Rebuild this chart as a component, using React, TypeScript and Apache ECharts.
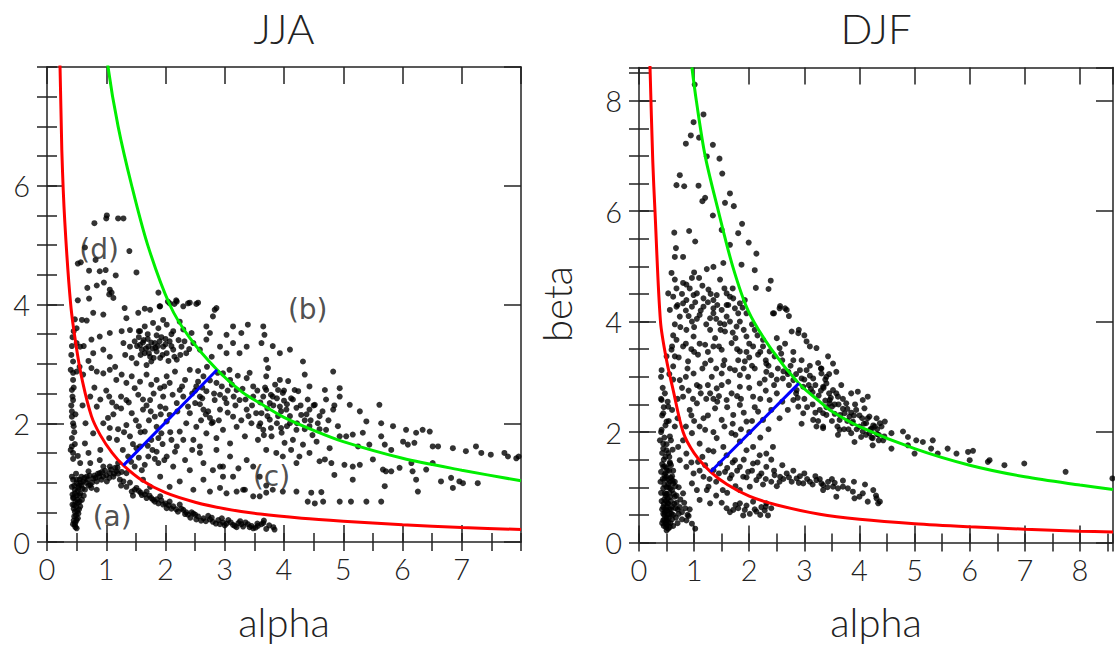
import React, { useEffect, useRef } from 'react';
import * as echarts from 'echarts';

// ---------- curves ----------
const jjaRed: number[][] = [[0.19,8.6],[0.22,8.0],[0.25,6.6],[0.3,5.4],[0.4,4.0],[0.5,3.25],[0.6,2.7],[0.75,2.12],[0.9,1.8],[1.1,1.5],[1.29,1.29],[1.6,1.04],[2.0,0.83],[2.5,0.67],[3.0,0.56],[3.6,0.47],[4.3,0.4],[5.0,0.35],[6.0,0.29],[7.0,0.245],[8.0,0.21]];
const jjaGreen: number[][] = [[0.98,8.6],[1.03,8.0],[1.2,7.0],[1.43,6.0],[1.7,5.0],[2.07,4.0],[2.4,3.45],[2.87,2.9],[3.3,2.52],[3.59,2.34],[4.0,2.1],[4.5,1.88],[5.0,1.69],[6.0,1.41],[7.0,1.21],[8.0,1.03]];
const jjaBlue: number[][] = [[1.29,1.29],[2.87,2.9]];
const djfRed: number[][] = [[0.19,9.0],[0.2,8.6],[0.25,6.9],[0.29,6.0],[0.39,4.0],[0.5,3.3],[0.62,2.76],[0.8,2.0],[1.0,1.62],[1.3,1.28],[1.6,1.05],[2.0,0.84],[2.5,0.68],[3.28,0.51],[4.0,0.42],[5.0,0.34],[6.0,0.285],[7.0,0.24],[8.0,0.205],[8.6,0.19]];
const djfGreen: number[][] = [[0.96,8.6],[1.04,8.0],[1.2,7.0],[1.44,6.0],[1.7,5.0],[1.98,4.2],[2.4,3.5],[2.9,2.88],[3.28,2.55],[3.46,2.4],[4.0,2.1],[5.0,1.7],[6.0,1.4],[7.0,1.19],[8.0,1.04],[8.6,0.96]];
const djfBlue: number[][] = [[1.3,1.28],[2.9,2.88]];

// ---------- JJA scatter ----------
const jjaClusterA: number[][] = [[0.44,1.05],[0.5,0.99],[0.42,0.93],[0.53,0.91],[0.47,0.82],[0.56,0.82],[0.44,0.74],[0.51,0.71],[0.43,0.63],[0.49,0.6],[0.47,0.51],[0.53,0.48],[0.46,0.43],[0.5,0.37],[0.47,0.29],[0.5,0.23],[0.44,0.3],[0.56,0.6],[0.59,0.71],[0.42,1.1],[0.55,1.05],[0.61,1.02],[0.67,1.1],[0.73,0.96],[0.78,1.07],[0.84,1.02],[0.89,1.16],[0.95,1.1],[1.01,1.02],[1.06,1.16],[1.12,1.1],[1.17,1.19],[1.23,1.05],[0.64,0.88],[0.75,0.91],[0.95,1.27],[1.34,1.16],[1.29,1.02],[0.7,1.19],[0.84,0.88],[0.46,0.95],[0.52,0.86],[0.48,0.68],[0.45,0.56],[0.52,0.4],[0.48,0.33],[0.54,0.55],[0.58,0.95],[0.62,0.78],[0.66,1.0],[0.7,0.95],[0.8,1.12],[0.86,1.15],[0.92,1.05],[0.98,1.2],[1.05,1.08],[1.15,1.25],[1.2,1.15],[0.58,1.1],[0.49,1.15],[0.43,0.8],[0.55,0.68],[0.6,0.9],
[0.45,0.36],[0.49,0.45],[0.51,0.52],[0.46,0.62],[0.52,0.66],[0.45,0.75],[0.5,0.78],[0.47,0.88],[0.54,0.95],[0.5,1.05],[0.57,1.0],[0.63,1.08],[0.69,1.05],[0.72,1.12],[0.76,1.0],[0.82,1.08],[0.88,1.1],[0.93,1.18],[1.0,1.12],[1.08,1.22],[1.13,1.15],[1.19,1.25],[1.26,1.18],[0.48,0.25],[0.55,0.78]];
const jjaBand: number[][] = [[1.34,0.93],[1.43,0.85],[1.51,0.91],[1.6,0.79],[1.68,0.74],[1.79,0.71],[1.88,0.65],[1.96,0.63],[2.02,0.57],[2.13,0.6],[2.21,0.51],[2.3,0.54],[2.38,0.46],[2.47,0.48],[2.55,0.43],[2.64,0.4],[2.72,0.44],[2.8,0.34],[2.89,0.37],[2.97,0.33],[3.06,0.37],[3.14,0.29],[3.23,0.32],[3.31,0.26],[3.39,0.3],[3.48,0.23],[3.56,0.27],[1.91,0.77],[2.07,0.68],[2.24,0.63],[1.68,0.85],[3.62,0.3],[3.7,0.22],[3.82,0.25],[3.66,0.36],[1.4,1.0],[1.55,0.86],[1.73,0.78],[1.85,0.72],[2.05,0.62],[2.18,0.55],[2.35,0.5],[2.5,0.46],[2.6,0.36],[2.75,0.38],[2.85,0.31],[3.0,0.28],[3.1,0.33],[3.2,0.25],[3.35,0.33],[3.45,0.27],[3.55,0.31],[3.75,0.28],[2.42,0.41],[2.95,0.4],[3.28,0.3],[1.25,0.95],[1.45,0.78],
[1.48,0.88],[1.58,0.83],[1.65,0.8],[1.76,0.74],[1.82,0.68],[1.93,0.7],[2.0,0.65],[2.1,0.56],[2.27,0.56],[2.33,0.47],[2.44,0.5],[2.52,0.38],[2.68,0.35],[2.78,0.41],[2.92,0.3],[3.03,0.31],[3.17,0.27],[3.26,0.35],[3.42,0.25],[3.52,0.24]];
const jjaD: number[][] = [[1.01,5.5],[1.2,5.45],[1.29,5.45],[0.8,5.37],[0.64,4.96],[1.39,4.9],[0.52,4.69],[0.57,4.71],[0.82,4.75],[0.71,4.57],[0.89,4.56],[0.99,4.58],[1.16,4.49],[1.51,4.54],[0.84,4.32],[0.96,4.37],[0.68,4.28],[1.06,4.25],[1.09,4.2],[1.05,4.17],[1.12,4.11],[0.71,4.1],[0.52,4.07],[1.0,5.45],[1.88,4.2],[2.04,4.05],[2.18,4.07],[2.15,4.01],[2.3,3.97],[2.41,4.03],[2.55,4.03],[2.86,3.94],[1.9,3.97],[1.31,3.94],[1.65,3.93]];
const jjaCloud: number[][] = [[0.78,3.86],[0.95,3.83],[1.34,3.77],[0.59,3.74],[0.67,3.73],[1.54,3.86],[1.74,3.91],[1.91,3.97],[2.07,4.02],[2.19,4.05],[2.38,4.02],[2.52,4.01],[2.83,3.91],[2.8,3.8],
[1.06,3.52],[1.26,3.55],[1.4,3.57],[1.57,3.55],[1.65,3.63],[1.79,3.69],[1.88,3.6],[1.96,3.74],[2.02,3.66],[2.13,3.55],[2.24,3.71],[2.44,3.52],[2.69,3.63],[2.75,3.52],[3.03,3.49],[3.14,3.63],[3.28,3.52],[3.39,3.66],[0.75,3.41],[0.89,3.46],
[1.29,3.35],[1.4,3.29],[1.48,3.38],[1.57,3.32],[1.6,3.24],[1.65,3.18],[1.71,3.29],[1.74,3.12],[1.82,3.35],[1.85,3.21],[1.91,3.1],[1.96,3.29],[2.02,3.18],[2.07,3.38],[2.13,3.24],[2.19,3.07],[2.27,3.29],[2.35,3.18],[2.47,3.35],[2.58,3.24],[2.69,3.41],[2.78,3.12],[2.92,3.29],[3.03,3.18],[3.14,3.35],[3.25,3.18],[3.37,3.29],[1.06,3.12],[0.95,3.24],[0.78,3.18],[0.44,3.04],[0.56,3.29],[1.51,3.01],[1.68,2.98],[1.43,3.1],[1.32,3.15],[1.76,3.04],[1.55,3.45],[1.62,3.36],[1.7,3.42],[1.78,3.26],[1.87,3.3],[1.93,3.45],[2.0,3.33],[2.1,3.5],[2.22,3.4],[2.3,3.58],
[0.44,2.73],[0.61,2.82],[0.75,2.93],[0.84,2.87],[0.95,2.84],[1.06,2.9],[1.17,2.73],[1.26,2.82],[1.34,2.68],[1.43,2.79],[1.48,2.59],[1.57,2.7],[1.68,2.82],[1.76,2.65],[1.85,2.73],[1.91,2.59],[2.02,2.79],[2.07,2.68],[2.16,2.87],[2.24,2.56],[2.33,2.73],[2.41,2.9],[2.52,2.62],[2.64,2.79],[2.69,2.54],[2.86,2.68],[2.97,2.84],[3.09,2.73],[3.2,2.56],[3.37,2.76],[3.48,2.62],[0.42,2.56],[0.5,2.87],
[0.44,2.39],[0.42,2.11],[0.73,2.45],[0.84,2.28],[1.17,2.28],[1.34,2.39],[1.43,2.17],[1.54,2.48],[1.62,2.23],[1.74,2.39],[1.82,2.11],[1.91,2.28],[1.96,2.45],[2.07,2.14],[2.19,2.34],[2.3,2.45],[2.41,2.17],[2.5,2.34],[2.58,2.45],[2.64,2.23],[2.75,2.09],[2.83,2.39],[2.92,2.23],[3.03,2.34],[3.14,2.11],[3.25,2.39],[3.37,2.23],[3.48,2.45],[3.53,2.17],
[0.44,2.0],[0.42,1.61],[0.64,1.66],[0.78,1.83],[1.03,2.09],[1.06,1.92],[1.34,1.97],[1.4,1.78],[1.57,1.61],[1.65,1.86],[1.76,1.72],[1.85,1.94],[1.93,1.83],[2.02,2.03],[2.1,1.72],[2.19,1.61],[2.24,1.86],[2.35,2.0],[2.47,1.72],[2.52,1.94],[2.58,1.61],[2.69,1.83],[2.78,2.0],[2.86,1.75],[2.97,1.89],[3.09,1.66],[3.2,1.94],[3.34,1.78],[3.45,2.0],[3.56,1.72],
[0.44,1.5],[0.56,1.33],[0.73,1.33],[0.89,1.38],[1.06,1.27],[1.2,1.33],[1.37,1.44],[1.51,1.58],[1.48,1.27],[1.6,1.21],[1.71,1.44],[1.85,1.52],[1.88,1.33],[2.02,1.44],[2.13,1.27],[2.16,1.52],[2.33,1.38],[2.41,1.21],[2.58,1.5],[2.64,1.33],[2.8,1.21],[2.86,1.55],[2.97,1.27],[3.09,1.44],[3.23,1.24],[3.37,1.38],[3.48,1.27],
[1.62,1.05],[1.74,0.93],[1.91,1.1],[2.07,0.93],[2.24,1.02],[2.47,0.88],[2.64,1.05],[2.75,0.85],[2.92,0.91],[3.03,0.82],[3.2,0.85],[3.34,0.88],[2.97,1.1],[2.92,1.27],[3.14,1.1],[3.31,0.88],[3.48,0.77],
[0.42,3.3],[0.4,2.9],[0.45,2.6],[0.42,2.2],[0.46,1.85],[0.4,1.55],[0.44,1.4],[0.5,3.6],[0.47,3.75],[0.45,3.55],[0.5,3.35],[0.62,3.3],[0.7,3.05],[0.55,2.95],[0.8,2.6],[0.9,2.4],[0.6,2.3],[0.65,2.0],[0.95,2.0],[1.0,2.55],[1.1,2.35],[1.15,2.95],[1.25,2.45],[1.05,1.75],[1.2,1.9],[0.9,1.55],[0.7,1.5],
[1.8,2.5],[1.98,2.62],[2.12,2.48],[2.28,2.62],[2.45,2.5],[2.55,2.7],[2.2,2.2],[2.38,2.28],[1.72,2.05],[1.55,1.95],[1.68,2.3],[2.0,2.25],[2.6,2.05],[2.9,2.05],[3.05,2.55],[3.15,2.45],[2.72,2.2],[2.3,1.72],[2.45,1.55],[1.95,1.65],[1.78,1.55],[2.08,1.85],
[1.52,3.3],[1.58,3.15],[1.63,3.4],[1.67,3.26],[1.72,3.18],[1.76,3.36],[1.8,3.1],[1.83,3.27],[1.9,3.38],[1.95,3.15],[2.0,3.42],[2.05,3.05],[2.1,3.3],[2.15,3.12],[1.55,3.55],[1.7,3.5],[1.85,3.48],[2.25,3.15],[2.32,3.38],[2.4,3.25],
[2.55,2.88],[2.62,2.6],[2.7,2.95],[2.75,2.72],[2.82,2.5],[2.88,2.85],[2.95,2.62],[3.0,2.42],[3.08,2.9],[3.12,2.65],[3.18,2.3],[3.22,2.8],[3.3,2.58],[3.35,2.4],[3.42,2.85],[3.46,2.3],[2.58,2.32],[2.68,2.15],[2.8,2.02],[2.92,2.48],[3.05,2.18],[3.28,2.05],[3.4,2.12],[2.5,2.55],[2.62,2.42],
[0.43,3.45],[0.41,3.15],[0.44,2.85],[0.43,2.45],[0.41,2.3],[0.45,1.95],[0.42,1.75],[0.47,1.65],[0.52,1.45],[0.48,2.15],
[1.05,2.45],[1.12,2.15],[1.18,1.72],[1.25,2.25],[1.3,1.85],[1.38,2.35],[1.45,1.65],[1.5,2.05],[1.58,1.85],[1.62,2.4],[1.7,1.62],[1.75,2.2],[1.82,1.4],[1.88,1.75],[1.92,2.15],[1.28,1.55],[1.42,1.35],[1.55,1.42],[1.65,1.3],[1.98,1.38]];
const jjaTail: number[][] = [[3.65,3.63],[3.67,3.49],[3.62,3.35],[3.81,3.3],[3.93,3.18],[4.1,3.24],[3.7,3.07],[4.32,3.04],[4.83,2.87],[4.35,2.82],[3.73,2.93],[3.7,2.79],[3.93,2.73],[4.07,2.71],[3.9,2.56],[4.18,2.56],[4.43,2.62],[4.94,2.59],[4.69,2.56],[3.7,2.56],[3.65,2.45],[3.81,2.45],[3.98,2.51],[4.12,2.42],[4.24,2.54],[4.4,2.4],[4.52,2.31],[4.71,2.4],[4.94,2.45],[3.76,2.34],[3.93,2.28],[4.04,2.23],[4.21,2.26],[4.29,2.14],[4.43,2.23],[4.6,2.12],[4.83,2.23],[5.11,2.31],[5.28,2.2],[5.61,2.31],[3.62,2.17],[3.76,2.06],[3.9,2.12],[4.1,2.0],[4.21,1.89],[4.43,1.95],[4.57,2.0],[4.71,1.89],[4.91,1.95],[5.05,1.78],[5.16,1.81],[5.33,1.84],[5.39,2.03],[5.64,2.0],[5.84,1.95],[6.06,1.89],[6.23,1.84],[6.34,1.89],[6.46,1.86],[3.65,1.89],[3.79,1.78],[3.96,1.84],[4.01,1.67],[4.15,1.72],[4.32,1.64],[4.55,1.69],[4.77,1.58],[4.94,1.78],[5.25,1.61],[5.44,1.64],[5.64,1.78],[5.7,1.64],[5.81,1.55],[6.01,1.69],[6.09,1.64],[6.2,1.67],[6.51,1.61],[6.6,1.61],[6.85,1.58],[7.07,1.53],[7.24,1.61],[7.33,1.5],[7.49,1.47],[7.72,1.5],[7.78,1.44],[7.92,1.41],[7.96,1.44],[3.7,1.55],[3.87,1.5],[3.98,1.44],[4.12,1.55],[4.26,1.44],[4.43,1.5],[4.6,1.36],[4.69,1.39],[4.8,1.33],[5.02,1.3],[5.16,1.27],[5.28,1.3],[5.5,1.39],[5.67,1.22],[5.72,1.19],[5.81,1.19],[5.95,1.25],[6.15,1.33],[6.17,1.19],[6.23,1.05],[6.4,1.22],[6.51,1.33],[6.65,1.02],[6.82,1.08],[6.96,1.02],[7.02,0.99],[7.27,0.99],[6.85,0.91],[6.26,0.85],[5.7,0.94],[4.85,1.13],[5.16,1.05],[4.21,1.33],[3.85,2.65],[4.0,2.38],[3.88,2.0],[3.72,2.25],[4.05,1.95],[4.35,2.05],[3.6,2.0],[3.78,1.92],[4.48,1.8],
[3.55,2.55],[3.6,2.35],[3.68,2.6],[3.72,2.12],[3.78,2.48],[3.82,2.3],[3.88,2.42],[3.95,2.2],[4.0,2.55],[4.05,2.32],[4.1,2.12],[4.15,2.4],[4.22,2.0],[4.28,2.3],[4.35,1.9],[4.38,2.15],[4.45,2.05],[4.5,2.3],[3.58,1.95],[3.66,1.8],[3.95,1.92],[4.6,1.9],[4.65,2.2],[4.75,2.05],[4.85,2.3]];
const jjaC: number[][] = [[3.59,0.77],[3.7,0.83],[3.81,0.88],[3.98,0.85],[4.21,0.85],[4.46,0.83],[4.63,0.84],[4.4,0.68],[4.52,0.65],[4.66,0.68],[4.94,0.68],[5.13,0.68],[5.39,0.68],[5.64,0.68],[3.65,0.32],[3.84,0.21],[3.59,1.1],[3.7,0.95]];

// ---------- DJF scatter ----------
const djfSpike: number[][] = [[1.01,8.29],[1.17,7.75],[0.99,7.61],[0.94,7.37],[1.09,7.33],[0.85,7.22],[1.34,7.2],[1.23,6.99],[1.46,6.95],[0.74,6.65],[1.51,6.68],[0.68,6.47],[0.82,6.45],[1.08,6.46],[1.65,6.32],[1.2,6.24],[1.15,6.18],[1.56,6.15],[1.72,6.09],[1.34,5.92],[1.87,5.77],[0.64,5.61],[0.91,5.64],[1.5,5.66],[1.8,5.6],[1.02,5.45],[1.65,5.39],[1.99,5.43],[0.67,5.33],[0.65,5.17],[0.8,5.17],[2.13,5.23],[1.53,5.06],[1.86,5.03],[2.1,4.93],[2.39,4.74],[2.35,4.59],[2.12,4.61]];
const djfCloud: number[][] = [[0.59,4.88],[0.65,4.76],[0.86,4.67],[1.0,4.89],[1.09,4.79],[1.23,4.95],[1.35,4.99],[1.47,4.76],[1.26,4.58],[1.05,4.51],[0.86,4.39],[1.17,4.42],[1.41,4.48],[1.59,4.51],[1.71,4.42],[1.83,4.33],[0.53,4.51],[0.68,4.27],[0.96,4.27],[1.35,4.24],[1.59,4.3],[1.92,4.39],[0.96,4.79],[0.8,4.7],[2.65,4.24],
[0.62,4.45],[0.8,4.33],[0.99,4.48],[1.17,4.27],[1.35,4.39],[1.5,4.21],[1.65,4.45],[1.74,4.24],[0.74,4.09],[0.96,4.0],[1.1,4.12],[1.29,4.06],[1.47,3.97],[1.59,4.09],[1.83,4.0],[1.95,4.15],[2.43,4.15],[2.55,4.24],[2.68,4.21],[0.56,4.21],
[0.5,3.37],[0.59,3.49],[0.68,3.67],[0.65,3.37],[0.8,3.55],[0.86,3.85],[0.99,3.73],[1.07,3.4],[1.2,3.58],[1.29,3.85],[1.38,3.7],[1.5,3.49],[1.56,3.82],[1.68,3.61],[1.77,3.91],[1.83,3.46],[1.95,3.73],[2.07,3.55],[2.16,3.4],[2.25,3.67],[2.37,3.46],[2.46,3.37],[2.55,3.52],[2.77,3.82],[2.89,3.79],[3.04,3.64],[3.22,3.52],[2.5,3.7],
[0.41,3.12],[0.62,3.19],[0.74,2.94],[0.89,3.28],[0.99,3.06],[1.1,2.82],[1.2,3.24],[1.32,3.0],[1.41,2.79],[1.53,3.21],[1.62,2.91],[1.74,3.12],[1.83,2.82],[1.92,3.28],[1.98,3.0],[2.1,3.15],[2.19,2.88],[2.31,3.24],[2.4,3.03],[2.52,3.15],[2.61,2.97],[2.71,3.09],[2.8,2.94],[2.98,2.82],[3.04,3.12],[3.16,2.97],[3.31,3.06],[3.4,2.88],[2.86,2.76],[2.31,3.09],[1.83,3.03],[1.5,3.06],
[0.41,2.58],[0.44,2.34],[0.53,2.46],[0.5,2.19],[0.8,2.64],[0.92,2.4],[1.05,2.52],[1.17,2.25],[1.29,2.7],[1.38,2.43],[1.5,2.22],[1.59,2.58],[1.71,2.31],[1.83,2.49],[1.95,2.19],[2.07,2.64],[2.16,2.37],[2.25,2.22],[2.37,2.58],[2.5,2.7],[2.8,2.58],[2.89,2.46],[2.98,2.34],[3.16,2.22],[3.22,2.1],[3.34,2.1],[3.34,2.34],[3.46,2.52],
[0.41,2.04],[0.44,1.79],[0.56,1.92],[0.5,1.67],[0.65,2.1],[0.71,1.73],[0.86,1.61],[0.96,1.98],[1.1,1.79],[1.2,2.04],[1.26,1.67],[1.41,1.89],[1.53,1.73],[1.59,1.58],[1.68,1.98],[1.83,1.83],[1.95,1.67],[2.07,1.73],[2.19,1.58],[2.31,1.61],[2.43,1.73],
[0.9,4.1],[1.0,3.9],[1.12,4.2],[1.25,4.35],[1.4,4.05],[1.55,3.95],[1.62,4.3],[1.8,4.15],[1.9,3.85],[2.05,3.95],[2.15,3.75],[2.2,3.45],[2.3,3.3],[2.05,3.2],[1.95,3.45],[1.8,3.3],[1.7,3.8],[1.45,3.55],[1.3,3.3],[1.15,3.15],[1.0,3.45],[0.85,3.6],[0.75,3.9],[0.7,4.3],[0.62,3.75],[0.55,3.05],[0.7,2.6],[0.9,2.75],[1.05,2.85],[1.22,2.6],[1.45,2.65],[1.6,2.45],[1.78,2.65],[1.9,2.35],[2.1,2.45],[2.3,2.75],[2.45,2.85],[2.6,2.55],[2.7,2.4],[2.55,2.25],[2.35,2.05],[2.2,1.9],[2.0,2.0],[1.75,1.95],[1.55,2.1],[1.35,2.0],[1.1,2.1],[0.95,2.3],[0.8,1.85],
[2.6,3.3],[2.75,3.2],[2.85,3.05],[2.95,2.97],[3.08,2.85],[3.15,2.72],[3.26,2.66],[3.38,2.57],[3.5,2.46],[3.55,2.33],[3.65,2.31],[3.78,2.2],[3.87,2.16],[3.95,2.05],[4.06,2.01],[4.22,2.06],[4.32,1.96],[2.45,4.15],[2.56,4.28],[2.72,4.1],[2.9,3.85],[3.0,3.75],[3.1,3.55],[2.65,3.6],[2.8,3.45],[2.95,3.3],[3.1,3.2],[3.25,3.25],[3.35,2.8],[3.15,2.5],[3.0,2.6],[2.88,2.62],[3.45,2.7],
[0.68,4.6],[0.78,4.5],[0.92,4.6],[1.02,4.35],[1.15,4.65],[1.3,4.5],[1.42,4.3],[1.55,4.6],[1.7,4.6],[0.65,3.95],[0.85,4.2],[1.05,4.05],[1.22,3.95],[1.35,4.15],[1.48,3.85],[1.65,4.0],[1.75,3.7],[1.88,4.25],[2.0,3.6],[2.1,3.85],[0.6,3.55],[0.72,3.35],[0.88,3.15],[0.95,3.5],[1.1,3.6],[1.25,3.45],[1.35,3.55],[1.4,3.15],[1.55,3.3],[1.65,3.15],[1.78,3.5],[1.9,3.15],[2.0,3.35],[2.25,3.55],[2.35,3.2],[0.62,2.95],[0.78,2.8],[0.85,3.0],[0.98,2.6],[1.12,2.7],[1.25,2.85],[1.35,2.6],[1.5,2.85],[1.68,2.7],[1.85,2.6],[2.0,2.8],[2.2,2.6],[2.28,2.95],[2.5,2.95],[2.62,3.1],[0.6,2.4],[0.7,2.25],[0.85,2.1],[1.0,2.2],[1.25,2.3],[1.42,2.55],[1.7,2.15],[1.85,2.05],[2.05,2.2],[2.4,2.4],
[2.58,3.42],[2.7,3.05],[2.8,3.3],[2.92,3.12],[3.0,2.95],[3.1,3.02],[3.2,2.85],[3.3,2.75],[3.38,2.95],[3.48,2.62],[3.58,2.7],[3.62,2.5],[3.7,2.6],[3.78,2.42],[3.85,2.35],[3.92,2.5],[4.0,2.3],[4.08,2.15],[4.15,2.25],[4.25,2.12],[4.32,2.05],[4.4,2.1],[3.5,2.2],[3.6,2.1],[3.72,2.05],[3.85,1.98],[4.12,1.95],[4.22,1.9],[4.35,1.85],[4.45,1.92],[3.2,2.35],[3.05,2.45],[2.95,2.15],[3.25,2.2],[3.4,2.45],[3.12,2.78],[2.85,2.7],[2.72,2.85],[3.3,3.15],[3.45,3.05]];
const djfColumn: number[][] = [[0.44,1.37],[0.5,1.19],[0.56,1.43],[0.62,1.07],[0.47,0.89],[0.53,0.71],[0.59,0.52],[0.5,0.4],[0.56,0.28],[0.44,0.64],[0.65,0.83],[0.74,0.64],[0.86,0.4],[0.96,0.34],[1.02,0.25],[0.8,0.89],[0.45,0.3],[0.48,0.35],[0.5,0.45],[0.52,0.5],[0.47,0.55],[0.55,0.6],[0.5,0.65],[0.45,0.7],[0.58,0.75],[0.52,0.8],[0.48,0.85],[0.55,0.9],[0.6,0.95],[0.5,1.0],[0.46,1.05],[0.56,1.1],[0.52,1.15],[0.6,1.2],[0.48,1.25],[0.55,1.3],[0.5,1.35],[0.58,1.4],[0.62,0.5],[0.42,0.6],[0.44,0.4],[0.53,0.25],[0.57,0.35],[0.62,0.3],[0.67,0.45],[0.7,0.6],[0.64,0.7],[0.68,0.85],[0.72,1.0],[0.4,0.9],[0.43,1.15],[0.65,1.1],[0.7,0.35],[0.46,0.5],[0.49,0.75],[0.54,1.0],[0.47,1.15],[0.58,0.6],[0.51,0.58],[0.53,0.36],[0.49,0.28],[0.6,0.42],[0.66,0.62],[0.78,0.55],[0.82,0.72],[0.92,0.6],[0.88,0.5],[0.45,1.5],[0.42,1.62],[0.55,1.55],[0.61,1.68],[0.4,1.28],[0.62,1.3],
[0.42,0.35],[0.46,0.42],[0.5,0.32],[0.54,0.44],[0.44,0.52],[0.48,0.6],[0.52,0.7],[0.56,0.82],[0.46,0.78],[0.5,0.88],[0.44,0.98],[0.53,1.06],[0.58,1.17],[0.46,1.22],[0.51,1.3],[0.56,1.45],[0.48,1.55],[0.44,1.7],[0.5,1.78],[0.46,1.9],[0.4,2.0],[0.48,2.12],[0.42,2.3],[0.45,2.45],[0.4,2.6],[0.43,2.8],[0.4,3.0],[0.38,1.85],[0.42,1.42],[0.39,1.1],[0.41,0.75],[0.6,0.65],[0.63,0.88],[0.66,1.02],[0.68,0.72],[0.72,0.52],[0.75,0.78],[0.78,0.42],[0.84,0.62],[0.9,0.48],[0.5,0.22],[0.55,0.52],[0.57,0.98],[0.61,1.12],[0.47,1.38],[0.53,1.62],[0.58,1.85],[0.54,2.2],[0.52,2.55],[0.47,2.7]];
const djfBranch: number[][] = [[0.74,1.49],[0.86,1.37],[0.99,1.25],[1.07,1.46],[1.17,1.19],[1.26,1.01],[1.35,1.31],[1.47,1.43],[1.56,1.28],[1.65,1.16],[1.74,1.49],[1.83,1.37],[1.89,1.19],[1.98,1.28],[2.07,1.43],[2.13,1.13],[2.22,1.25],[2.31,1.37],[2.4,1.1],[2.46,1.22],[2.56,1.19],[2.68,1.25],[2.77,1.1],[2.86,1.16],[2.98,1.07],[3.1,1.1],[3.22,1.13],[3.34,1.04],[3.43,1.1],[2.01,1.01],[1.83,0.95],[0.96,1.07],[1.05,0.95],[1.1,0.77],[1.23,0.95],[1.29,0.71],[1.59,0.62],[1.71,0.59],[1.83,0.71],[1.92,0.59],[2.01,0.52],[2.13,0.56],[2.22,0.64],[2.34,0.49],[2.31,0.71],[1.89,0.49],[2.07,0.74],[0.95,1.45],[1.15,1.55],[1.35,1.65],[1.7,1.45],[1.9,1.5],[2.15,1.45],[2.4,1.5],[2.6,1.4],[2.8,1.3],[3.0,1.25],[3.2,1.2],[3.5,1.15],[3.7,1.12],[3.9,1.1],[4.1,1.05],[4.25,0.95],[4.3,0.85],[3.31,1.07],[3.34,0.95],[3.52,1.01],[3.61,0.98],[3.7,1.01],[3.79,0.98],[3.88,0.92],[4.0,0.83],[3.91,0.8],[4.06,0.89],[4.15,0.74],[4.31,0.8],[4.37,0.74],[4.34,0.71],[3.58,0.83],[1.4,1.1],[1.52,0.95],[2.25,1.05],[2.5,1.02],[2.62,1.15],[2.92,1.2],[1.75,0.68],[2.28,0.58],[2.4,0.62],
[1.1,1.3],[1.2,1.4],[1.28,1.15],[1.45,1.25],[1.6,1.35],[1.68,1.22],[1.78,1.3],[1.95,1.18],[2.05,1.3],[2.18,1.2],[2.3,1.15],[2.45,1.3],[2.55,1.1],[2.72,1.18],[2.9,1.08],[3.05,1.15],[3.15,1.05],[3.28,1.15],[3.42,1.0],[3.55,1.08],[1.65,0.55],[1.8,0.62],[1.95,0.67],[2.1,0.6],[2.2,0.5],[2.3,0.65],[1.5,0.72],[1.4,0.85],[1.6,0.9],[1.75,1.02]];
const djfTail: number[][] = [[3.43,3.37],[3.52,3.24],[3.31,3.15],[3.4,3.0],[3.58,3.09],[3.34,2.82],[3.52,2.76],[3.67,2.85],[3.61,2.64],[3.46,2.58],[3.76,2.52],[3.85,2.7],[3.97,2.73],[4.15,2.64],[4.06,2.58],[3.94,2.4],[4.09,2.43],[3.73,2.34],[3.4,2.31],[3.64,2.22],[3.82,2.28],[4.18,2.28],[4.31,2.25],[4.37,2.16],[4.46,2.19],[4.28,2.1],[4.12,2.16],[4.0,2.1],[3.88,2.19],[3.34,2.07],[3.64,2.04],[3.61,1.95],[4.03,1.91],[4.18,1.98],[4.24,1.89],[4.43,1.85],[4.58,1.98],[3.91,1.82],[4.24,1.76],[4.58,1.7],[4.79,2.01],[4.88,1.91],[5.03,1.85],[5.15,1.82],[5.33,1.85],[5.3,1.7],[4.88,1.76],[5.0,1.61],[5.42,1.61],[5.6,1.7],[5.76,1.61],[5.97,1.64],[6.06,1.66],[6.0,1.49],[6.33,1.46],[6.36,1.49],[6.63,1.4],[6.99,1.43],[7.74,1.28],[8.59,1.16],[3.28,2.4],[3.55,2.5],[3.7,2.42],[3.9,2.3],[4.05,2.25],[4.2,2.05],[3.8,2.05],[4.35,1.95]];

// ---------- labels ----------
const jjaNotes = [{ name: '(d)', value: [0.88, 4.93] }, { name: '(b)', value: [4.4, 3.91] }, { name: '(c)', value: [3.79, 1.1] }, { name: '(a)', value: [1.1, 0.43] }];
const titles = ['JJA', 'DJF'];
const xName = 'alpha';
const yName = 'beta';
const axisMax = [8, 8.6];

const FONT = 'Lato';
const INK = '#222';

function axesFor(gi: number, max: number) {
  const base = { type: 'value', gridIndex: gi, min: 0, max, splitLine: { show: false } };
  const line = { show: true, onZero: false, lineStyle: { color: INK, width: 1.5 } };
  const tickLong = (len: number) => ({ show: true, inside: true, length: len, lineStyle: { color: INK, width: 1.5 } });
  const label = { show: true, showMaxLabel: false, color: INK, fontSize: 29, fontFamily: FONT, fontWeight: 300 };
  const x = [
    { ...base, position: 'bottom', interval: 1, axisLine: line, axisTick: tickLong(17), axisLabel: { ...label, margin: 12 } },
    { ...base, position: 'bottom', interval: 0.5, axisLine: { show: false }, axisTick: tickLong(9), axisLabel: { show: false } },
    { ...base, position: 'top', interval: 1, axisLine: line, axisTick: tickLong(17), axisLabel: { show: false } },
    { ...base, position: 'top', interval: 0.5, axisLine: { show: false }, axisTick: tickLong(9), axisLabel: { show: false } },
  ];
  const y = [
    { ...base, position: 'left', interval: 2, axisLine: line, axisTick: tickLong(17), axisLabel: { ...label, margin: 17 } },
    { ...base, position: 'left', interval: 0.5, axisLine: { show: false }, axisTick: tickLong(10), axisLabel: { show: false } },
    { ...base, position: 'right', interval: 2, axisLine: line, axisTick: tickLong(17), axisLabel: { show: false } },
    { ...base, position: 'right', interval: 0.5, axisLine: { show: false }, axisTick: tickLong(10), axisLabel: { show: false } },
  ];
  return { x, y };
}

export default function App() {
  const ref = useRef<HTMLDivElement>(null);
  useEffect(() => {
    if (!ref.current) return;
    const chart = echarts.init(ref.current, null, { renderer: 'svg' });
    const a0 = axesFor(0, axisMax[0]);
    const a1 = axesFor(1, axisMax[1]);
    const dots = (data: number[][], xi: number) => ({
      type: 'scatter', xAxisIndex: xi, yAxisIndex: xi, data, symbol: 'circle', symbolSize: 6,
      itemStyle: { color: '#000' }, silent: true,
    });
    const curve = (data: number[][], xi: number, color: string) => ({
      type: 'line', xAxisIndex: xi, yAxisIndex: xi, data, showSymbol: false, smooth: 0.3, clip: true,
      lineStyle: { color, width: 3 }, silent: true, z: 3,
    });
    const textStyle = (size: number) => ({ fill: INK, fontSize: size, fontFamily: FONT, fontWeight: 300 });
    chart.setOption({
      animation: false,
      grid: [
        { left: 47, top: 67, width: 474, height: 475 },
        { left: 639, top: 67.5, width: 474, height: 475 },
      ],
      xAxis: [...a0.x, ...a1.x],
      yAxis: [...a0.y, ...a1.y],
      series: [
        dots(jjaClusterA, 0), dots(jjaBand, 0), dots(jjaD, 0), dots(jjaCloud, 0), dots(jjaTail, 0), dots(jjaC, 0),
        curve(jjaRed, 0, '#ff0000'), curve(jjaGreen, 0, '#00ee00'), curve(jjaBlue, 0, '#0000ff'),
        {
          type: 'scatter', xAxisIndex: 0, yAxisIndex: 0, data: jjaNotes, symbolSize: 0, z: 4, silent: true,
          label: { show: true, position: 'inside', formatter: '{b}', color: '#222', fontSize: 28, fontFamily: 'DejaVu Sans' },
        },
        dots(djfColumn, 4), dots(djfBranch, 4), dots(djfCloud, 4), dots(djfSpike, 4), dots(djfTail, 4),
        curve(djfRed, 4, '#ff0000'), curve(djfGreen, 4, '#00ee00'), curve(djfBlue, 4, '#0000ff'),
      ],
      graphic: [
        { type: 'text', x: 284, y: 28, style: { ...textStyle(42), text: titles[0], align: 'center', verticalAlign: 'middle' } },
        { type: 'text', x: 876, y: 28, style: { ...textStyle(42), text: titles[1], align: 'center', verticalAlign: 'middle' } },
        { type: 'text', x: 284, y: 622, style: { ...textStyle(40), text: xName, align: 'center', verticalAlign: 'middle' } },
        { type: 'text', x: 876, y: 622, style: { ...textStyle(40), text: xName, align: 'center', verticalAlign: 'middle' } },
        { type: 'text', x: 557, y: 304, rotation: Math.PI / 2, style: { ...textStyle(40), text: yName, align: 'center', verticalAlign: 'middle' } },
      ],
    });
    return () => chart.dispose();
  }, []);
  return <div ref={ref} style={{ position: 'fixed', left: 0, top: 0, width: 1115, height: 648, background: '#fff' }} />;
}
